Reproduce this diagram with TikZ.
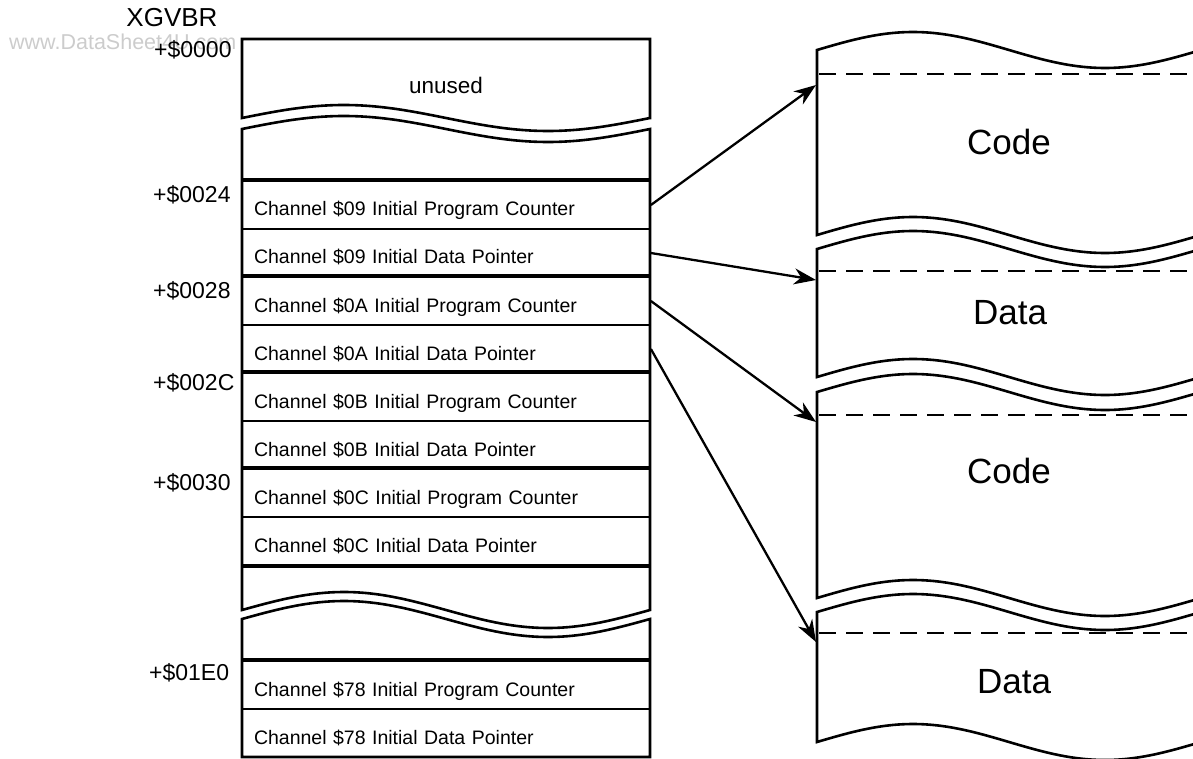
\documentclass[tikz,border=0pt]{standalone}
\usepackage{fontspec}
\setmainfont{Liberation Sans}
\usetikzlibrary{arrows.meta}
\begin{document}
\begin{tikzpicture}[x=1pt,y=-1pt,
 outline/.style={line width=2.6pt, line join=miter},
 sepline/.style={line width=3.4pt},
 rowbox/.style={draw, line width=1.8pt, minimum width=408pt, minimum height=48pt,
   text width=384pt, align=left, inner xsep=12pt, inner ysep=0pt,
   text height=24pt, text depth=2pt, font=\fontsize{19.5}{22}\selectfont},
 addr/.style={anchor=base west, inner sep=0pt, font=\fontsize{23}{26}\selectfont},
 bigtext/.style={anchor=base, inner sep=0pt, font=\fontsize{35}{40}\selectfont},
 arr/.style={line width=2.3pt, -{Stealth[length=22pt,width=16pt,inset=7pt]}},
 dashline/.style={line width=1.4pt, dash pattern=on 17pt off 10pt},
]
\useasboundingbox (0,0) rectangle (1193,759);
\clip (0,0) rectangle (1193,759);

% watermark
\node[anchor=base west, inner sep=0pt, text=black!20, font=\fontsize{21.5}{24}\selectfont] (wm) at (9,50) {www.DataSheet4U.com};

% header and addresses
\node[anchor=base, inner sep=0pt, font=\fontsize{26}{30}\selectfont] (xg) at (172,27) {XGVBR};
\node[addr] (a0000) at (154,58) {+\$0000};
\node[addr] (a0024) at (153,203) {+\$0024};
\node[addr] (a0028) at (153,298) {+\$0028};
\node[addr] (a002C) at (153,390) {+\$002C};
\node[addr] (a0030) at (153,490) {+\$0030};
\node[addr] (a01E0) at (149,680) {+\$01E0};

% left column: section A (unused)
\draw[outline] (650,118) -- (650,39) -- (242,39) -- plot[domain=0:408, samples=90] ({242+\x},{118-13*sin(0.882353*\x)}) -- cycle;
\node[anchor=base, inner sep=0pt, font=\fontsize{22.5}{26}\selectfont] (unused) at (446,94) {unused};

% rows
\node[rowbox] (r09pc) at (446,205) {Channel \$09 Initial Program Counter};
\node[rowbox] (r09dp) at (446,253) {Channel \$09 Initial Data Pointer};
\node[rowbox] (r0Apc) at (446,301) {Channel \$0A Initial Program Counter};
\node[rowbox] (r0Adp) at (446,349) {Channel \$0A Initial Data Pointer};
\node[rowbox] (r0Bpc) at (446,397) {Channel \$0B Initial Program Counter};
\node[rowbox] (r0Bdp) at (446,445) {Channel \$0B Initial Data Pointer};
\node[rowbox] (r0Cpc) at (446,493) {Channel \$0C Initial Program Counter};
\node[rowbox] (r0Cdp) at (446,541) {Channel \$0C Initial Data Pointer};
\node[rowbox] (r78pc) at (446,685) {Channel \$78 Initial Program Counter};
\node[rowbox] (r78dp) at (446,733) {Channel \$78 Initial Data Pointer};

% left column: section B outline
\draw[outline] plot[domain=0:408, samples=90] ({242+\x},{129-13*sin(0.882353*\x)}) -- (650,610) -- plot[domain=408:0, samples=90] ({242+\x},{610-18*sin(0.882353*\x)}) -- cycle;
% left column: section C outline
\draw[outline] plot[domain=0:408, samples=90] ({242+\x},{619-18*sin(0.882353*\x)}) -- (650,757) -- (242,757) -- cycle;

% thick separators
\foreach \r in {r09pc,r0Apc,r0Bpc,r0Cpc,r78pc}{
  \draw[sepline] (\r.north west) -- (\r.north east);
}
\draw[sepline] (r0Cdp.south west) -- (r0Cdp.south east);

% right column blocks
\draw[outline] plot[domain=0:400, samples=90] ({817+\x},{50-18*sin(0.9375*\x)}) -- plot[domain=400:0, samples=90] ({817+\x},{235-18*sin(0.9375*\x)}) -- cycle;
\draw[outline] plot[domain=0:400, samples=90] ({817+\x},{249-18*sin(0.9375*\x)}) -- plot[domain=400:0, samples=90] ({817+\x},{377-18*sin(0.9375*\x)}) -- cycle;
\draw[outline] plot[domain=0:400, samples=90] ({817+\x},{392-18*sin(0.9375*\x)}) -- plot[domain=400:0, samples=90] ({817+\x},{598-18*sin(0.9375*\x)}) -- cycle;
\draw[outline] plot[domain=0:400, samples=90] ({817+\x},{612-18*sin(0.9375*\x)}) -- plot[domain=400:0, samples=90] ({817+\x},{742-18*sin(0.9375*\x)}) -- cycle;

% dashed lines
\draw[dashline] (819,74) -- (1200,74);
\draw[dashline] (819,271) -- (1200,271);
\draw[dashline] (819,415) -- (1200,415);
\draw[dashline] (819,633) -- (1200,633);

% block labels
\node[bigtext] (code1) at (1009,155) {Code};
\node[bigtext] (data1) at (1010,324) {Data};
\node[bigtext] (code2) at (1009,483) {Code};
\node[bigtext] (data2) at (1014,693) {Data};

% arrow targets
\coordinate (t1) at (816,85);
\coordinate (t2) at (816,280);
\coordinate (t3) at (816,422);
\coordinate (t4) at (816,642);

\draw[arr] (r09pc.east) -- (t1);
\draw[arr] (r09dp.east) -- (t2);
\draw[arr] (r0Apc.east) -- (t3);
\draw[arr] (r0Adp.east) -- (t4);
\end{tikzpicture}
\end{document}
